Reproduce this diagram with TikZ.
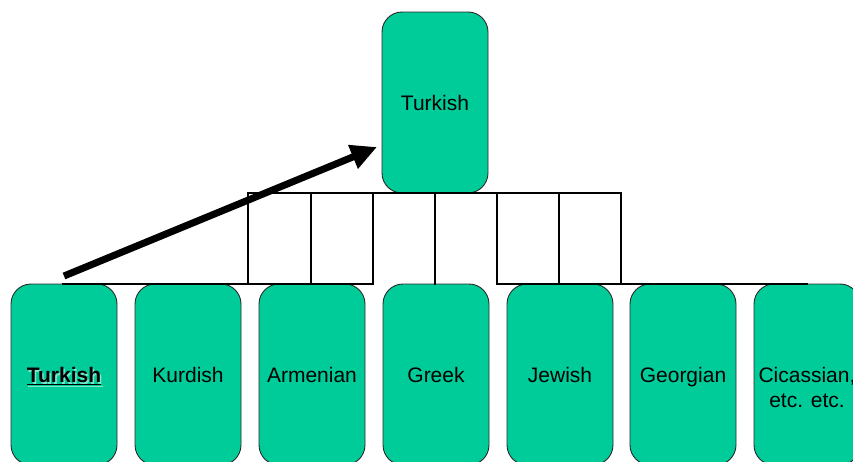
\documentclass[tikz,border=0pt]{standalone}
\usepackage{fontspec}
\setmainfont{Liberation Sans}
\usetikzlibrary{arrows.meta,calc}
\definecolor{boxgreen}{RGB}{0,204,153}
\definecolor{boxedge}{RGB}{40,40,40}
\begin{document}
\begin{tikzpicture}[x=1pt,y=-1pt,
  langbox/.style={draw=boxedge,line width=0.9pt,fill=boxgreen,rounded corners=20pt,
    minimum width=106pt,minimum height=181pt,inner sep=0pt,
    text height=20pt,text depth=4pt,
    font=\fontsize{21}{25}\selectfont,align=center},
  plainlabel/.style={inner sep=0pt,text height=20pt,text depth=4pt,
    font=\fontsize{21}{25}\selectfont\bfseries},
  bar/.style={line width=2.8pt,line cap=rect},
  bigarrow/.style={line width=7pt,-{Triangle[length=26pt,width=24pt]}}]
\clip (0,0) rectangle (853,461);
\fill[white] (0,0) rectangle (853,461);

% top language
\node[langbox] (t0) at (435,102.5) {Turkish};

% languages of the lower row
\node[langbox] (b1) at (64,374.5) {};
\node[langbox] (b2) at (188,374.5) {Kurdish};
\node[langbox] (b3) at (312,374.5) {Armenian};
\node[langbox] (b4) at (436,374.5) {Greek};
\node[langbox] (b5) at (560,374.5) {Jewish};
\node[langbox] (b6) at (683,374.5) {Georgian};
\node[langbox] (b7) at (807,374.5) {};

% bold underlined label with its soft shadow
\node[plainlabel,text=boxgreen!50!white] (s1) at ($(b1.center)+(1.6,1.6)$) {\underline{Turkish}};
\node[plainlabel] (l1) at (b1.center) {\underline{Turkish}};

% two-line label
\node[font=\fontsize{21}{25}\selectfont,align=center,anchor=north,inner sep=0pt] (l7) at ($(b7.center)+(0,-7)$) {Cicassian,\\etc. etc.};

% frame of connecting lines
\coordinate (ta) at (248,193);
\coordinate (tb) at (311,193);
\coordinate (tc) at (373,193);
\coordinate (td) at (435,193);
\coordinate (te) at (497,193);
\coordinate (tf) at (559,193);
\coordinate (tg) at (621,193);
\coordinate (ba) at (248,284);
\coordinate (bb) at (311,284);
\coordinate (bc) at (373,284);
\coordinate (bd) at (435,284);
\coordinate (be) at (497,284);
\coordinate (bf) at (559,284);
\coordinate (bg) at (621,284);
\coordinate (lstart) at (63,284);
\coordinate (rend) at (807,284);

\draw[bar] (ta) -- (tg);
\draw[bar] (lstart) -- (bc);
\draw[bar] (be) -- (rend);
\foreach \p in {a,b,c,d,e,f,g}
  \draw[bar] (t\p) -- (b\p);

% arrow from the lower Turkish up to the top one
\coordinate (astart) at (64,276);
\coordinate (aend) at (377,147);
\draw[bigarrow] (astart) -- (aend);
\end{tikzpicture}
\end{document}
